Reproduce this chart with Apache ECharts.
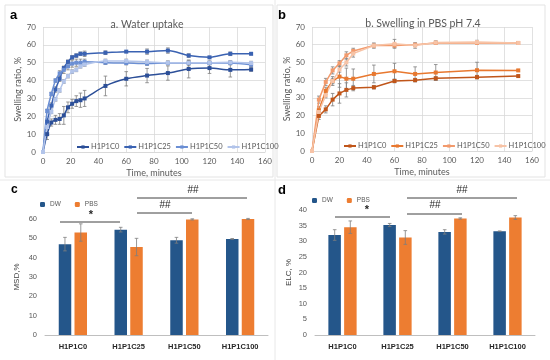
<!DOCTYPE html>
<html><head><meta charset="utf-8">
<script src="https://cdn.jsdelivr.net/npm/echarts@6/dist/echarts.min.js"></script>
<style>html,body{margin:0;padding:0;background:#fff}#c{width:550px;height:360px}</style>
</head><body><div id="c"></div>
<script>
// ---- Data ----
const timeA = [0,3,6,9,12,15,18,21,24,27,30,45,60,75,90,105,120,135,150];
const aC0   = [0,10,16.5,18,18.5,20.5,25,27,28.5,29,30,37,41,42.8,44.2,46.5,47,46,46.2];
const aC0e  = [0,3,2,2.5,3,5,3,2.5,3,4,4.5,5.5,4,4,4,5,3,4,1];
const aC25  = [0,17,26,35,41,47,50.5,53,54,55,55,55.6,56.2,56.2,56.8,54,53,55,55];
const aC25e = [0,1.5,1.5,1.5,1.5,1,1,1,1,1,1.5,1,0.5,1.5,1.5,1,0.5,1,0.5];
const aC50  = [0,23,32.5,40,44,46,48,49.5,50,50,50.5,50,49.8,49.5,49.8,49.8,49.8,49.8,48.9];
const aC50e = [0,1,1,1,1.5,2,2,2,2,2,1.5,1,1,1,1,1.5,1,1,1];
const aC100 = [0,14,22.5,29.5,34.5,39.5,42.5,45,46,48,49,51,51,50.5,50,50,50,50.2,49.8];
const aC100e= [0,1,1,1,1,1,1,1,1,1,1,1,1,1,1,1,1,1,1];

const timeB = [0,5,10,15,20,25,30,45,60,75,90,120,150];
const bC0   = [0,19.8,23.5,29,32.5,34.5,35.5,36,39.5,40,41,41.7,42.3];
const bC0e  = [0,2,2,3.5,5.5,4,1.5,1,1,1,1,1,0.5];
const bC25  = [0,23,34,39.5,42,40.8,40.8,43.5,45,43.5,44.3,45.6,45.5];
const bC25e = [0,2,2,2.5,6,6,5.5,5,4.5,4,4.5,4.5,0.5];
const bC50  = [0,29,39,45.5,49.5,54,56.5,59.5,59.5,60,61,61,61];
const bC50e = [0,2,2,2,1.5,2,1.5,1,1,1,0.5,0.5,0.5];
const bC100 = [0,22,31.5,39.5,46,50,55,59.5,60.5,59.5,61.3,61.5,61];
const bC100e= [0,1.5,1.5,1.5,1.5,2,2,1.5,2.5,1.5,1,1,0.5];

const groups = ['H1P1C0','H1P1C25','H1P1C50','H1P1C100'];
const msdDW  = [47,54.5,49,49.7];   const msdDWe  = [3.5,1.2,1.5,0.2];
const msdPBS = [53,45.5,59.8,60];   const msdPBSe = [4.5,4.5,0.3,0.3];
const elcDW  = [32,35.2,33,33.2];   const elcDWe  = [1.7,0.5,0.7,0.1];
const elcPBS = [34.5,31.2,37.3,37.6]; const elcPBSe = [2,2.2,0.2,0.6];

// ---- Styles ----
const blues = ['#2c4f98','#3a62b2','#6b8fd4','#b2c4ea'];
const oranges = ['#c0561a','#e8782f','#f29a6c','#f7c3a6'];
const DWc = '#24568a', PBSc = '#ed7d31';
const gray = '#595959', grid = '#d9d9d9', errc = '#7f7f7f';
const F = 'Lato';

const zw = '\u200b';
function pts(t, v){ return t.map((x,i)=>[x,v[i]]); }
function errPts(t, v, e){ return t.map((x,i)=>[x,v[i],e[i]]); }

function lineErr(xi, yi, data){
  return {type:'custom', xAxisIndex:xi, yAxisIndex:yi, silent:true, z:1,
    renderItem:(p,api)=>{
      const x=api.value(0), v=api.value(1), e=api.value(2);
      if(!e) return;
      const a=api.coord([x,v+e]), b=api.coord([x,v-e]);
      const s={stroke:errc,lineWidth:0.8};
      return {type:'group',children:[
        {type:'line',shape:{x1:a[0],y1:a[1],x2:b[0],y2:b[1]},style:s},
        {type:'line',shape:{x1:a[0]-1.8,y1:a[1],x2:a[0]+1.8,y2:a[1]},style:s},
        {type:'line',shape:{x1:b[0]-1.8,y1:b[1],x2:b[0]+1.8,y2:b[1]},style:s}]};
    }, data:data};
}
function barErr(xi, yi, vals, errs, side){
  return {type:'custom', xAxisIndex:xi, yAxisIndex:yi, silent:true, z:5,
    renderItem:(p,api)=>{
      const i=api.value(0), v=api.value(1), e=api.value(2);
      const bw=api.size([1,0])[0];
      const off=side*bw*0.142;
      const a=api.coord([i,v+e]), b=api.coord([i,v-e]);
      const x=a[0]+off;
      const s={stroke:errc,lineWidth:0.8};
      return {type:'group',children:[
        {type:'line',shape:{x1:x,y1:a[1],x2:x,y2:b[1]},style:s},
        {type:'line',shape:{x1:x-1.8,y1:a[1],x2:x+1.8,y2:a[1]},style:s},
        {type:'line',shape:{x1:x-1.8,y1:b[1],x2:x+1.8,y2:b[1]},style:s}]};
    }, data: vals.map((v,i)=>[i,v,errs[i]])};
}
function line(name, xi, yi, t, v, color, smooth){
  return {type:'line', name:name, xAxisIndex:xi, yAxisIndex:yi, data:pts(t,v),
    symbol:'rect', symbolSize:4, smooth:smooth, z:3,
    itemStyle:{color:color}, lineStyle:{color:color,width:1.5}};
}
const legendLine = (data, left, top, extra) => Object.assign({data:data, left:left, top:top, width:260,
  itemWidth:12, itemHeight:4, itemGap:4, textStyle:{fontFamily:F,fontSize:7.5,color:gray,padding:[0,0,0,-3]}}, extra||{});

const option = {
  animation:false,
  textStyle:{fontFamily:F},
  grid:[
    {left:43, top:27, width:222, height:125},
    {left:312, top:27, width:220, height:124},
    {left:45, top:219, width:223, height:116},
    {left:315, top:210, width:220, height:125}
  ],
  title:[
    {text:'a. Water uptake', left:142, top:14, textAlign:'center', textStyle:{fontFamily:F,fontSize:10.5,fontWeight:'normal',color:gray}},
    {text:'b. Swelling in PBS pH 7.4', left:418, top:13, textAlign:'center', textStyle:{fontFamily:F,fontSize:10.5,fontWeight:'normal',color:gray}}
  ],
  xAxis:[
    {type:'value', gridIndex:0, min:0, max:160, interval:20, name:'Time, minutes', nameLocation:'middle', nameGap:17,
     nameTextStyle:{fontFamily:F,fontSize:9,color:gray},
     axisLine:{lineStyle:{color:grid}}, axisTick:{show:false},
     axisLabel:{fontFamily:F,fontSize:8,color:gray,margin:5},
     splitLine:{show:true,lineStyle:{color:grid,width:0.8}}},
    {type:'value', gridIndex:1, min:0, max:160, interval:20, name:'Time, minutes', nameLocation:'middle', nameGap:17,
     nameTextStyle:{fontFamily:F,fontSize:9,color:gray},
     axisLine:{lineStyle:{color:grid}}, axisTick:{show:false},
     axisLabel:{fontFamily:F,fontSize:8,color:gray,margin:5},
     splitLine:{show:true,lineStyle:{color:grid,width:0.8}}},
    {type:'category', gridIndex:2, data:groups, axisLine:{lineStyle:{color:'#bfbfbf'}}, axisTick:{show:false},
     axisLabel:{fontFamily:'Liberation Sans',fontSize:7.5,fontWeight:'bold',color:'#262626',margin:8}},
    {type:'category', gridIndex:3, data:groups, axisLine:{lineStyle:{color:'#bfbfbf'}}, axisTick:{show:false},
     axisLabel:{fontFamily:'Liberation Sans',fontSize:7.5,fontWeight:'bold',color:'#262626',margin:8}}
  ],
  yAxis:[
    {type:'value', gridIndex:0, min:0, max:70, interval:10, name:'Swelling ratio, %', nameLocation:'middle', nameGap:17,
     nameTextStyle:{fontFamily:F,fontSize:9,color:gray},
     axisLine:{show:false}, axisTick:{show:false}, axisLabel:{fontFamily:F,fontSize:8,color:gray,margin:7},
     splitLine:{lineStyle:{color:grid,width:0.8}}},
    {type:'value', gridIndex:1, min:0, max:70, interval:10, name:'Swelling ratio, %', nameLocation:'middle', nameGap:17,
     nameTextStyle:{fontFamily:F,fontSize:9,color:gray},
     axisLine:{show:false}, axisTick:{show:false}, axisLabel:{fontFamily:F,fontSize:8,color:gray,margin:7},
     splitLine:{lineStyle:{color:grid,width:0.8}}},
    {type:'value', gridIndex:2, min:0, max:60, interval:10, name:'MSD,%', nameLocation:'middle', nameGap:24,
     nameTextStyle:{fontFamily:'Liberation Sans',fontSize:8,color:'#404040'},
     axisLine:{show:false}, axisTick:{show:false}, axisLabel:{fontFamily:'Liberation Sans',fontSize:7.5,color:gray,margin:8},
     splitLine:{show:false}},
    {type:'value', gridIndex:3, min:0, max:40, interval:5, name:'ELC, %', nameLocation:'middle', nameGap:22,
     nameTextStyle:{fontFamily:'Liberation Sans',fontSize:8,color:'#404040'},
     axisLine:{show:false}, axisTick:{show:false}, axisLabel:{fontFamily:'Liberation Sans',fontSize:7.5,color:gray,margin:8},
     splitLine:{show:false}}
  ],
  legend:[
    legendLine(['H1P1C0','H1P1C25','H1P1C50','H1P1C100'], 71, 138),
    legendLine(['H1P1C0'+zw,'H1P1C25'+zw,'H1P1C50'+zw,'H1P1C100'+zw], 338, 137, {formatter:n=>n.replace(/\u200b/g,'')}),
    {data:['DW','PBS'], left:35, top:196, itemWidth:5, itemHeight:5, itemGap:14,
     textStyle:{fontFamily:'Liberation Sans',fontSize:6.5,color:gray}},
    {data:['DW','PBS'], left:307, top:192, itemWidth:5, itemHeight:5, itemGap:14,
     textStyle:{fontFamily:'Liberation Sans',fontSize:6.5,color:gray}}
  ],
  series:[
    lineErr(0,0,errPts(timeA,aC0,aC0e)), lineErr(0,0,errPts(timeA,aC25,aC25e)),
    lineErr(0,0,errPts(timeA,aC50,aC50e)), lineErr(0,0,errPts(timeA,aC100,aC100e)),
    line('H1P1C0',0,0,timeA,aC0,blues[0],0.3),
    line('H1P1C25',0,0,timeA,aC25,blues[1],0.3),
    line('H1P1C50',0,0,timeA,aC50,blues[2],0.3),
    line('H1P1C100',0,0,timeA,aC100,blues[3],0.3),
    lineErr(1,1,errPts(timeB,bC0,bC0e)), lineErr(1,1,errPts(timeB,bC25,bC25e)),
    lineErr(1,1,errPts(timeB,bC50,bC50e)), lineErr(1,1,errPts(timeB,bC100,bC100e)),
    line('H1P1C0'+zw,1,1,timeB,bC0,oranges[0],false),
    line('H1P1C25'+zw,1,1,timeB,bC25,oranges[1],false),
    line('H1P1C50'+zw,1,1,timeB,bC50,oranges[2],false),
    line('H1P1C100'+zw,1,1,timeB,bC100,oranges[3],false),
    {type:'bar',name:'DW',xAxisIndex:2,yAxisIndex:2,data:msdDW,barWidth:12.5,barGap:'26%',itemStyle:{color:DWc}},
    {type:'bar',name:'PBS',xAxisIndex:2,yAxisIndex:2,data:msdPBS,barWidth:12.5,barGap:'26%',itemStyle:{color:PBSc}},
    barErr(2,2,msdDW,msdDWe,-1), barErr(2,2,msdPBS,msdPBSe,1),
    {type:'bar',name:'DW',xAxisIndex:3,yAxisIndex:3,data:elcDW,barWidth:12.5,barGap:'26%',itemStyle:{color:DWc}},
    {type:'bar',name:'PBS',xAxisIndex:3,yAxisIndex:3,data:elcPBS,barWidth:12.5,barGap:'26%',itemStyle:{color:PBSc}},
    barErr(3,3,elcDW,elcDWe,-1), barErr(3,3,elcPBS,elcPBSe,1)
  ],
  graphic:[
    {type:'rect',shape:{x:5,y:5,width:268,height:172},style:{fill:'none',stroke:'#e3e3e3',lineWidth:1},silent:true},
    {type:'rect',shape:{x:277,y:5,width:268,height:172},style:{fill:'none',stroke:'#e3e3e3',lineWidth:1},silent:true},
    {type:'line',shape:{x1:275,y1:0,x2:275,y2:360},style:{stroke:'#e8e8e8',lineWidth:1},silent:true},
    {type:'line',shape:{x1:0,y1:180,x2:550,y2:180},style:{stroke:'#e8e8e8',lineWidth:1},silent:true},
    {type:'text',left:10,top:9,style:{text:'a',font:'bold 13px "Liberation Sans"',fill:'#000'}},
    {type:'text',left:278,top:9,style:{text:'b',font:'bold 13px "Liberation Sans"',fill:'#000'}},
    {type:'text',left:11,top:184,style:{text:'c',font:'bold 12px "Liberation Sans"',fill:'#000'}},
    {type:'text',left:278,top:184,style:{text:'d',font:'bold 13px "Liberation Sans"',fill:'#000'}},
    // significance brackets panel c
    {type:'line',shape:{x1:60,y1:222,x2:120,y2:222},style:{stroke:'#404040',lineWidth:1}},
    {type:'text',x:91,y:215,style:{text:'*',font:'bold 11px "Liberation Sans"',fill:'#262626',textAlign:'center',textVerticalAlign:'middle'}},
    {type:'line',shape:{x1:137,y1:213,x2:192,y2:213},style:{stroke:'#404040',lineWidth:1}},
    {type:'text',x:165,y:205,style:{text:'##',font:'10px "Liberation Sans"',fill:'#262626',textAlign:'center',textVerticalAlign:'middle'}},
    {type:'line',shape:{x1:137,y1:198,x2:247,y2:198},style:{stroke:'#404040',lineWidth:1}},
    {type:'text',x:193,y:190,style:{text:'##',font:'10px "Liberation Sans"',fill:'#262626',textAlign:'center',textVerticalAlign:'middle'}},
    // panel d
    {type:'line',shape:{x1:335,y1:217,x2:390,y2:217},style:{stroke:'#404040',lineWidth:1}},
    {type:'text',x:367,y:210,style:{text:'*',font:'bold 11px "Liberation Sans"',fill:'#262626',textAlign:'center',textVerticalAlign:'middle'}},
    {type:'line',shape:{x1:407,y1:214,x2:462,y2:214},style:{stroke:'#404040',lineWidth:1}},
    {type:'text',x:435,y:205,style:{text:'##',font:'10px "Liberation Sans"',fill:'#262626',textAlign:'center',textVerticalAlign:'middle'}},
    {type:'line',shape:{x1:407,y1:198,x2:517,y2:198},style:{stroke:'#404040',lineWidth:1}},
    {type:'text',x:462,y:190,style:{text:'##',font:'10px "Liberation Sans"',fill:'#262626',textAlign:'center',textVerticalAlign:'middle'}}
  ]
};
const chart = echarts.init(document.getElementById('c'), null, {renderer:'canvas'});
chart.setOption(option);
</script></body></html>
